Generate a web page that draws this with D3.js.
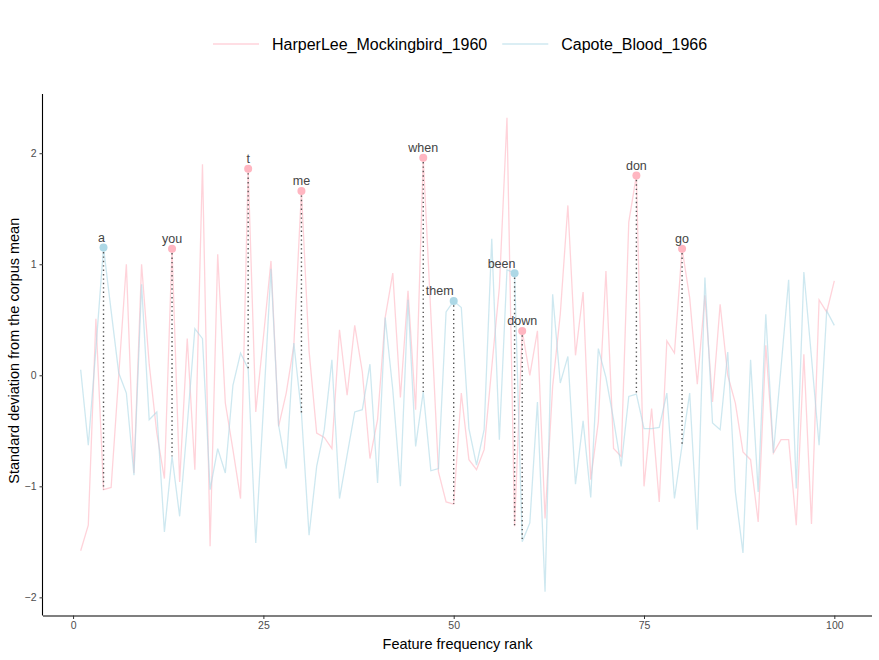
<!DOCTYPE html>
<html>
<head>
<meta charset="utf-8">
<script src="https://cdn.jsdelivr.net/npm/d3@7"></script>
<style>
  body { margin: 0; background: #fff; }
  svg { font-family: "Liberation Sans", Arial, sans-serif; }
</style>
</head>
<body>
<svg id="chart" width="879" height="660"></svg>
<script>
// series names
var seriesNames = ["HarperLee_Mockingbird_1960", "Capote_Blood_1966"];

// standard deviation from corpus mean, features ranked 1..100
var harper = [
  -1.58, -1.35, 0.51, -1.03, -1.01, 0.00, 1.00, -0.88, 1.00, 0.10,
  -0.52, -0.93, 1.14, -0.96, 0.33, -0.85, 1.90, -1.54, 1.09, -0.25,
  -0.67, -1.11, 1.86, -0.33, 0.34, 1.03, -0.46, -0.16, 0.27, 1.66,
  0.22, -0.52, -0.56, -0.66, 0.41, -0.18, 0.45, 0.03, -0.75, -0.40,
  0.52, 0.92, -0.20, 0.76, -0.31, 1.96, 0.55, -0.87, -1.14, -1.16,
  -0.16, -0.76, -0.85, -0.67, 0.07, 0.79, 2.32, -1.36, 0.40, 0.00,
  0.40, -1.29, -0.10, 0.55, 1.53, 0.18, 0.75, -0.94, -0.42, 0.94,
  -0.66, -0.73, 1.38, 1.80, -1.00, -0.30, -1.14, 0.31, 0.20, 1.14,
  0.70, -0.08, 0.72, -0.24, 0.64, 0.00, -0.25, -0.69, -0.76, -1.32,
  0.27, -0.70, -0.58, -0.58, -1.35, 0.19, -1.34, 0.68, 0.57, 0.85
];
var capote = [
  0.05, -0.63, 0.24, 1.15, 0.58, 0.02, -0.16, -0.90, 0.82, -0.40,
  -0.33, -1.41, -0.73, -1.27, -0.45, 0.42, 0.33, -1.03, -0.66, -0.88,
  -0.09, 0.20, 0.06, -1.51, -0.30, 0.96, -0.45, -0.84, 0.29, -0.34,
  -1.44, -0.82, -0.49, 0.14, -1.11, -0.72, -0.33, -0.31, 0.10, -0.97,
  0.52, -0.13, -1.00, 0.68, -0.64, -0.15, -0.86, -0.84, 0.57, 0.67,
  0.61, -0.48, -0.81, -0.49, 1.23, -0.58, 0.95, 0.92, -1.50, -1.33,
  -0.24, -1.95, 0.73, -0.07, 0.17, -0.98, -0.41, -1.10, 0.24, -0.02,
  -0.40, -0.82, -0.19, -0.17, -0.48, -0.48, -0.47, -0.16, -1.11, -0.63,
  -0.16, -1.39, 0.88, -0.43, -0.49, 0.21, -1.05, -1.60, 0.14, -1.05,
  0.55, -0.70, 0.07, 0.86, -1.02, 0.93, 0.16, -0.63, 0.58, 0.45
];

// labelled features: rank, word, which series is the distinctive one
var labelRanks = [4, 13, 23, 30, 46, 50, 58, 59, 74, 80];
var labelWords = ["a", "you", "t", "me", "when", "them", "been", "down", "don", "go"];
var labelSeries = [1, 0, 0, 0, 0, 1, 1, 0, 0, 0];

var xTicks = [0, 25, 50, 75, 100];
var yTicks = [-2, -1, 0, 1, 2];

var colors = ["#FFB6C1", "#ADD8E6"];

var svg = d3.select("#chart");
var mLeft = 43, mRight = 872, mTop = 94, mBottom = 615.5;

var ranks = d3.range(1, harper.length + 1);
var series = [harper, capote];

// ggplot style 5% expansion
var xExt = d3.extent(ranks);
var xPad = (xExt[1] - xExt[0]) * 0.05;
var x = d3.scaleLinear().domain([xExt[0] - xPad, xExt[1] + xPad]).range([mLeft, mRight]);

var yExt = d3.extent(harper.concat(capote));
var yPad = (yExt[1] - yExt[0]) * 0.05;
var y = d3.scaleLinear().domain([yExt[0] - yPad, yExt[1] + yPad]).range([mBottom, mTop]);

// lines
var line = d3.line()
    .x(function(d, i) { return x(ranks[i]); })
    .y(function(d) { return y(d); });

svg.append("g").attr("class", "lines")
  .selectAll("path")
  .data(series)
  .enter().append("path")
    .attr("d", line)
    .attr("fill", "none")
    .attr("stroke", function(d, i) { return colors[i]; })
    .attr("stroke-opacity", 0.6)
    .attr("stroke-width", 1.3);

// labels data
var labels = labelRanks.map(function(r, i) {
    var s = labelSeries[i];
    return {
        rank: r,
        word: labelWords[i],
        series: s,
        value: series[s][r - 1],
        other: series[1 - s][r - 1]
    };
});

// dotted connectors
svg.append("g").attr("class", "segments")
  .selectAll("line")
  .data(labels)
  .enter().append("line")
    .attr("x1", function(d) { return x(d.rank); })
    .attr("x2", function(d) { return x(d.rank); })
    .attr("y1", function(d) { return y(d.value); })
    .attr("y2", function(d) { return y(d.other); })
    .attr("stroke", "#555")
    .attr("stroke-width", 1.4)
    .attr("stroke-dasharray", "1.4,3");

svg.append("g").attr("class", "points")
  .selectAll("circle")
  .data(labels)
  .enter().append("circle")
    .attr("cx", function(d) { return x(d.rank); })
    .attr("cy", function(d) { return y(d.value); })
    .attr("r", 4)
    .attr("fill", function(d) { return colors[d.series]; });

// a couple of labels were pushed sideways in the original
var nudge = { them: -14, been: -13, a: -2 };

svg.append("g").attr("class", "labels")
  .selectAll("text")
  .data(labels)
  .enter().append("text")
    .attr("x", function(d) { return x(d.rank) + (nudge[d.word] || 0); })
    .attr("y", function(d) { return y(d.value) - 10; })
    .attr("dy", "0.35em")
    .attr("text-anchor", "middle")
    .attr("font-size", "12.5px")
    .attr("fill", "#444")
    .text(function(d) { return d.word; });

// axes
var xAxis = svg.append("g")
    .attr("transform", "translate(0," + mBottom + ")")
    .call(d3.axisBottom(x).tickValues(xTicks).tickSize(3.5).tickPadding(3));
var yAxis = svg.append("g")
    .attr("transform", "translate(" + mLeft + ",0)")
    .call(d3.axisLeft(y).tickValues(yTicks).tickSize(3.5).tickPadding(3).tickFormat(d3.format("d")));

[xAxis, yAxis].forEach(function(a) {
    a.select(".domain").attr("stroke", "#000").attr("stroke-width", 1.1);
    a.selectAll(".tick line").attr("stroke", "#333");
    a.selectAll(".tick text").attr("fill", "#4d4d4d").attr("font-size", "10.5px")
        .attr("font-family", "Liberation Sans, Arial, sans-serif");
});
// ggplot style: domain without end caps
xAxis.select(".domain").attr("d", "M" + mLeft + ",0.5H" + mRight);
yAxis.select(".domain").attr("d", "M-0.5," + mTop + "V" + mBottom);

svg.append("text")
    .attr("x", (mLeft + mRight) / 2)
    .attr("y", 649)
    .attr("text-anchor", "middle")
    .attr("font-size", "14.5px")
    .attr("fill", "#000")
    .text("Feature frequency rank");

svg.append("text")
    .attr("transform", "translate(19," + ((mTop + mBottom) / 2 - 4) + ") rotate(-90)")
    .attr("text-anchor", "middle")
    .attr("font-size", "14.5px")
    .attr("fill", "#000")
    .text("Standard deviation from the corpus mean");

// legend
var legend = svg.append("g").attr("class", "legend");
var lx = 213, ly = 44;
seriesNames.forEach(function(name, i) {
    legend.append("line")
        .attr("x1", lx).attr("x2", lx + 46)
        .attr("y1", ly).attr("y2", ly)
        .attr("stroke", colors[i])
        .attr("stroke-opacity", 0.6)
        .attr("stroke-width", 1.3);
    var t = legend.append("text")
        .attr("x", lx + 59)
        .attr("y", ly)
        .attr("dy", "0.35em")
        .attr("font-size", "16px")
        .attr("fill", "#000")
        .text(name);
    lx = lx + 59 + t.node().getComputedTextLength() + 15;
});
</script>
</body>
</html>
